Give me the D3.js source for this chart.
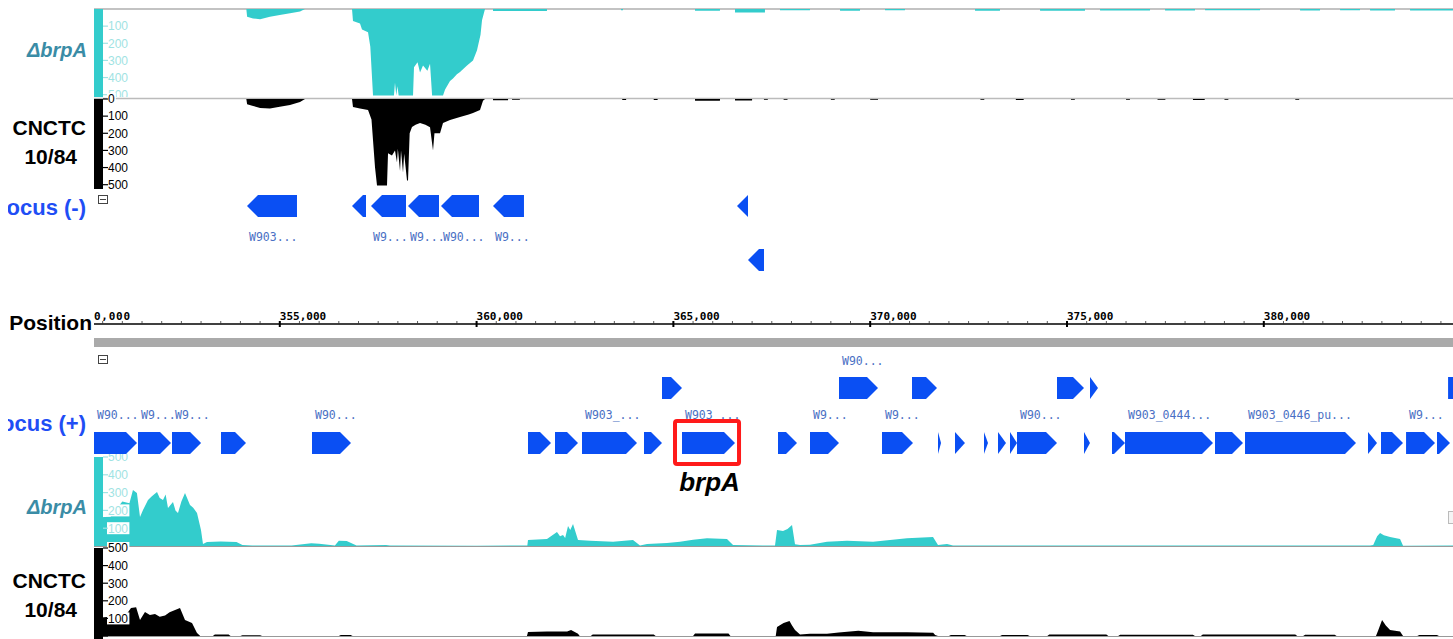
<!DOCTYPE html>
<html><head><meta charset="utf-8">
<script src="https://cdn.jsdelivr.net/npm/d3@7"></script>
<style>html,body{margin:0;padding:0;background:#fff;overflow:hidden}</style>
</head><body><svg id="c" width="1453" height="639"></svg>
<script>
// ---------------- data ----------------
const domainBp = [350280, 384807];
const majorTicks = [350000, 355000, 360000, 365000, 370000, 375000, 380000];
const covTicks = [0, 100, 200, 300, 400, 500];

// minus-strand coverage (upper tracks), [bp, reads]
const topTealCov = [[354150,0],[354170,45],[354320,55],[354500,60],[354750,45],[355000,35],[355260,25],[355514,15],[355641,0],
 [356835,0],[356860,70],[357038,85],[357089,120],[357242,135],[357300,220],[357369,600],[357900,600],[357927,430],[357960,600],[357990,450],[358020,600],
 [358385,600],[358410,340],[358500,310],[358563,370],[358639,330],[358750,360],[358817,320],[358870,600],[359147,600],[359200,470],[359325,420],[359401,405],
 [359500,380],[359579,368],[359757,330],[359909,300],[360011,240],[360100,150],[360138,65],[360214,0]];
const topTealBits = [[360417,361789,12],[363670,363720,8],[365549,366184,10],[366565,367327,20],[367708,368471,8],[369233,369742,10],[370376,370884,8],
 [372663,373298,10],[374315,375458,10],[375839,377110,9],[377491,378253,9],[378507,379905,8],[380921,381429,9],[381937,382445,8],[382699,383334,9],[383715,384807,9]];
const topBlackCov = [[354150,0],[354170,30],[354300,40],[354500,52],[354750,55],[355000,45],[355260,35],[355514,18],[355641,0],
 [356835,0],[356860,47],[357038,55],[357242,64],[357330,120],[357420,400],[357470,505],[357724,505],[357750,316],[357850,330],[357927,300],[357978,370],
 [358000,290],[358055,420],[358080,300],[358131,430],[358160,320],[358233,475],[358258,475],[358300,200],[358359,164],[358450,150],[358563,140],[358700,150],
 [358817,165],[358893,300],[358930,200],[359071,200],[359147,140],[359325,123],[359579,105],[359800,90],[359909,82],[360087,64],[360163,10],[360214,0]];
const topBlackBits = [[360417,360800,8],[360900,361100,5],[363700,363800,6],[364500,364600,6],[365549,366184,10],[366565,367000,9],[367300,367400,5],
 [367800,367900,5],[369000,369100,5],[370000,370200,5],[372800,372900,5],[373700,373900,6],[375100,375200,5],[376500,376600,5],[377300,377500,5],
 [378200,378500,6],[379000,379100,5],[380800,380900,5]];

// plus-strand coverage (lower tracks)
const botTealCov = [[350280,160],[350700,165],[351000,250],[351180,240],[351270,315],[351370,298],[351449,163],[351525,202],[351652,258],[351750,280],[351881,303],
 [351950,270],[352033,258],[352100,290],[352160,213],[352287,247],[352350,200],[352414,185],[352500,250],[352592,298],[352719,230],[352800,215],[352897,185],[352998,90],[353049,11],[353150,22],[353500,25],[353900,22],
 [354050,5],[354300,3],[355300,3],[355800,15],[356000,12],[356400,3],[356500,30],[356700,28],[356950,3],[357700,5],[357800,3],[360000,2],[360976,3],
 [361290,3],[361306,34],[361789,39],[362043,79],[362120,55],[362196,62],[362250,45],[362323,112],[362380,90],[362450,124],[362577,34],[362882,30],
 [363466,24],[363974,34],[364152,3],[364330,11],[364838,17],[365168,24],[365500,35],[365854,43],[366362,39],[366515,5],[367277,3],[367582,3],
 [367633,90],[367785,84],[367900,95],[368014,118],[368090,10],[368217,5],[368471,7],[368903,24],[369411,30],[370072,24],[370935,43],[371596,50],
 [371723,5],[371952,11],[372104,3],[372790,3],[382700,3],[382780,5],[382880,55],[382954,73],[383050,60],[383208,50],[383462,39],[383538,2],[384807,3]];
const botBlackCov = [[350280,100],[350600,108],[351093,120],[351220,159],[351350,163],[351449,91],[351575,136],[351700,120],[351830,125],[351950,110],[352085,117],[352200,135],[352340,148],
 [352465,159],[352592,91],[352770,74],[352897,17],[352980,0],[353300,0],[353350,8],[353700,8],[353750,0],[354000,0],[354050,4],[354500,4],[354550,0],
 [356500,0],[356550,6],[356800,6],[356850,0],[361280,0],[361306,23],[361789,26],[362300,26],[362400,34],[362577,13],[362620,0],[362900,0],[362950,9],
 [364500,9],[364550,0],[365500,0],[365550,14],[366400,14],[366450,0],[367600,0],[367633,51],[367800,74],[367950,85],[368014,60],[368090,34],[368217,8],
 [368471,13],[368903,13],[369200,20],[369700,30],[370072,21],[370935,21],[371600,18],[371650,5],[371723,0],[372000,0],[372050,5],[372400,5],[372450,0],
 [373300,0],[373350,6],[374000,6],[374050,0],[374500,0],[374550,8],[376000,8],[376050,0],[376300,0],[376350,7],[378200,7],[378250,0],[378400,0],
 [378450,9],[380800,9],[380850,0],[381000,0],[381050,7],[381800,7],[381850,0],[382850,0],[382903,30],[383005,91],[383100,60],[383208,34],[383462,26],
 [383538,0],[383900,0],[383950,5],[384400,5],[384450,0]];

// genes
const minusStart = [354167,356835,357318,358258,359096,360417,366616,366896];
const minusEnd   = [355437,357190,358207,359045,360061,361204,366896,367302];
const minusRow   = [0,0,0,0,0,0,0,1];
const minusLabel = ["W903...","","W9...","W9...","W90...","W9...","",""];

const plusStart = [364711,369208,371062,374746,375585,384682,
 350000,351398,352262,353507,355819,361306,361992,362678,364253,365219,367658,368471,370300,371723,372154,372891,373247,373552,373730,375432,376144,376474,378761,379523,382648,382978,383614,384401];
const plusEnd = [365219,370199,371697,375432,375788,385200,
 351373,352236,353000,354142,356810,361890,362577,364075,364711,366566,368141,369208,371088,371800,372408,372993,373450,373730,374746,375585,376474,378710,379472,382343,382877,383537,384350,384731];
const plusRow = [0,0,0,0,0,0, 1,1,1,1,1,1,1,1,1,1,1,1,1,1,1,1,1,1,1,1,1,1,1,1,1,1,1,1];
const plusLabel = ["","W90...","","","","",
 "W90...","W9...","W9...","","W90...","","","W903_...","","W903_...","","W9...","W9...","","","","","","W90...","","","W903_0444...","","W903_0446_pu...","","","W9...",""];
const highlightGene = 15; // index in plus arrays (brpA)

// ---------------- drawing ----------------
const svg = d3.select("#c");
const X0 = 94, X1 = 1453;
const x = d3.scaleLinear().domain(domainBp).range([X0, X1]);
const TEAL = "#33cccc", TEAL_LBL = "#3a8ca6", TICK_TEAL = "#9fe3e3", BLUE = "#0a4ff3", LBL_BLUE = "#1f4ef5";

const defs = svg.append("defs");
function clipR(id, x0, y0, x1, y1){ defs.append("clipPath").attr("id", id).append("rect").attr("x", x0).attr("y", y0).attr("width", x1-x0).attr("height", y1-y0); return `url(#${id})`; }
function clip(id, y0, y1){ return clipR(id, X0, y0, X1, y1); }

function withBits(main, bits){
  const pts = main.slice();
  bits.forEach(([s,e,v]) => { pts.push([s,0],[s+1,v],[e-1,v],[e,0]); });
  pts.sort((a,b)=>a[0]-b[0]);
  return pts;
}

const tracks = [
  {data: withBits(topTealCov, topTealBits), color: TEAL, y: d3.scaleLinear().domain([0,500]).range([9,94.7]), clipY:[9,97], bar:[9,97], tick: TICK_TEAL, ticks:[100,200,300,400,500], lblClip:[9,97]},
  {data: withBits(topBlackCov, topBlackBits), color: "#000", y: d3.scaleLinear().domain([0,500]).range([99,184.7]), clipY:[99,186], bar:[99,189], tick: "#000", ticks:covTicks, lblClip:[92,190]},
  {data: botTealCov, color: TEAL, y: d3.scaleLinear().domain([0,500]).range([546,457]), clipY:[455,546], bar:[457,546], tick: TICK_TEAL, ticks:[100,200,300,400,500], lblClip:[450,547]},
  {data: botBlackCov, color: "#000", y: d3.scaleLinear().domain([0,500]).range([636,548]), clipY:[546,639], bar:[548,639], tick: "#000", ticks:[100,200,300,400,500], lblClip:[540,639]}
];

// baselines / separators
svg.append("line").attr("x1",X0).attr("x2",X1).attr("y1",9).attr("y2",9).attr("stroke","#888").attr("stroke-width",1.2);
svg.append("line").attr("x1",X0).attr("x2",X1).attr("y1",98.5).attr("y2",98.5).attr("stroke","#bbb").attr("stroke-width",1.5);
svg.append("line").attr("x1",X0).attr("x2",X1).attr("y1",546.5).attr("y2",546.5).attr("stroke","#999").attr("stroke-width",1);
svg.append("line").attr("x1",X0).attr("x2",X1).attr("y1",636.5).attr("y2",636.5).attr("stroke","#999").attr("stroke-width",1);

tracks.forEach((t,i) => {
  const cp = clip("cov"+i, t.clipY[0], t.clipY[1]);
  const area = d3.area().x(d=>x(d[0])).y0(t.y(0)).y1(d=>t.y(Math.min(d[1],505)));
  svg.append("path").datum(t.data).attr("clip-path", cp).attr("d", area).attr("fill", t.color);
  svg.append("rect").attr("x",94).attr("y",t.bar[0]).attr("width",9).attr("height",t.bar[1]-t.bar[0]).attr("fill",t.color);
  const g = svg.append("g").attr("clip-path", clipR("lbl"+i, 100, t.lblClip[0], 140, t.lblClip[1]));
  t.ticks.forEach(v => {
    const yy = t.y(v);
    const txt = String(v);
    g.append("rect").attr("x",107).attr("y",yy-6).attr("width",txt.length*6.8+2).attr("height",12).attr("fill","#fff");
    g.append("line").attr("x1",103).attr("x2",108).attr("y1",yy).attr("y2",yy).attr("stroke",t.tick).attr("stroke-width",1.2);
    g.append("text").attr("x",108).attr("y",yy).attr("dy","0.36em").attr("font-family","Liberation Sans, Arial, sans-serif")
      .attr("font-size",12).attr("fill",t.tick).text(txt);
  });
});
svg.append("line").attr("x1",103).attr("x2",108).attr("y1",636).attr("y2",636).attr("stroke","#000").attr("stroke-width",1.2);

// left labels (the name panel clips at x = 8)
const nameG = svg.append("g").attr("clip-path", clipR("names", 8, 0, 94, 639));
const lab = (txt, xx, yy, color, italic, size) => nameG.append("text").attr("x",xx).attr("y",yy).attr("text-anchor","end")
  .attr("font-family","Liberation Sans, Arial, sans-serif").attr("font-weight","bold").attr("font-style", italic?"italic":"normal")
  .attr("font-size",size||21).attr("fill",color).text(txt);
lab("\u0394brpA", 87, 57, TEAL_LBL, true, 20);
lab("CNCTC", 86, 135, "#000");
lab("10/84", 77, 164, "#000");
lab("Locus (-)", 86, 215, LBL_BLUE, false, 22);
lab("Position", 92, 330, "#000");
lab("Locus (+)", 86, 431, LBL_BLUE, false, 22);
lab("\u0394brpA", 87, 514, TEAL_LBL, true, 20);
lab("CNCTC", 86, 588, "#000");
lab("10/84", 77, 617, "#000");

// position axis
const axY = 324;
const axG = svg.append("g").attr("clip-path", clip("ax", 300, 335));
axG.append("line").attr("x1",X0).attr("x2",X1).attr("y1",axY).attr("y2",axY).attr("stroke","#000").attr("stroke-width",1.5);
const minor = d3.range(350000, 385001, 500);
axG.selectAll("line.mn").data(minor).join("line").attr("class","mn")
  .attr("x1",d=>x(d)).attr("x2",d=>x(d)).attr("y1",axY-3).attr("y2",axY).attr("stroke","#333").attr("stroke-width",0.8);
axG.selectAll("line.mj").data(majorTicks).join("line").attr("class","mj")
  .attr("x1",d=>x(d)).attr("x2",d=>x(d)).attr("y1",axY-3).attr("y2",axY+3).attr("stroke","#000").attr("stroke-width",2);
axG.selectAll("text").data(majorTicks.filter(d=>x(d)>=X0)).join("text").attr("x",d=>x(d)).attr("y",axY-4)
  .attr("font-family","DejaVu Sans Mono, monospace").attr("font-weight","bold").attr("font-size",11).attr("fill","#000")
  .text(d=>d3.format(",")(d));
axG.append("text").attr("x",X0).attr("y",axY-4).attr("font-family","DejaVu Sans Mono, monospace").attr("font-weight","bold")
  .attr("font-size",11).attr("fill","#000").attr("textLength",36).text("0,000");
svg.append("rect").attr("x",X0).attr("y",338).attr("width",X1-X0).attr("height",9).attr("fill","#aaaaaa");

// collapse icons
[[98,195],[98,355]].forEach(([ix,iy]) => {
  svg.append("rect").attr("x",ix+0.5).attr("y",iy+0.5).attr("width",9).attr("height",8).attr("fill","#fff").attr("stroke","#444");
  svg.append("line").attr("x1",ix+2).attr("x2",ix+8).attr("y1",iy+4.5).attr("y2",iy+4.5).attr("stroke","#444");
});

// genes
function genePath(s, e, strand, yTop, h){
  const x0 = x(s), x1 = x(e), hw = Math.min(11, x1-x0), ym = yTop+h/2, yb = yTop+h;
  if (strand > 0) return `M${x0},${yTop}L${x1-hw},${yTop}L${x1},${ym}L${x1-hw},${yb}L${x0},${yb}Z`;
  return `M${x1},${yTop}L${x0+hw},${yTop}L${x0},${ym}L${x0+hw},${yb}L${x1},${yb}Z`;
}
const geneG = svg.append("g").attr("clip-path", clip("genes", 180, 470));
const minusRowY = [195, 249], plusRowY = [377, 432];
const minusLblY = [237, 291], plusLblY = [361, 415];
const lblFont = (sel) => sel.attr("font-family","DejaVu Sans Mono, monospace").attr("font-size",11.5).attr("fill","#4a6fc4").attr("dy","0.35em");

minusStart.forEach((s,i) => {
  geneG.append("path").attr("d", genePath(s, minusEnd[i], -1, minusRowY[minusRow[i]], 22)).attr("fill", BLUE);
  if (minusLabel[i]) geneG.append("text").attr("x", Math.max(x(s),X0)+2).attr("y", minusLblY[minusRow[i]]).call(lblFont).text(minusLabel[i]);
});
plusStart.forEach((s,i) => {
  geneG.append("path").attr("d", genePath(s, plusEnd[i], 1, plusRowY[plusRow[i]], 22)).attr("fill", BLUE);
  if (plusLabel[i]) geneG.append("text").attr("x", Math.max(x(s),X0)+3).attr("y", plusLblY[plusRow[i]]).call(lblFont).text(plusLabel[i]);
});

// highlight box for brpA
const hs = x(plusStart[highlightGene]), he = x(plusEnd[highlightGene]);
svg.append("rect").attr("x",hs-7).attr("y",421).attr("width",he-hs+11).attr("height",43).attr("rx",2)
  .attr("fill","none").attr("stroke","#ff1a1a").attr("stroke-width",4);
svg.append("text").attr("x",(hs+he)/2+1).attr("y",491).attr("text-anchor","middle")
  .attr("font-family","Liberation Sans, Arial, sans-serif").attr("font-weight","bold").attr("font-style","italic")
  .attr("font-size",26).attr("fill","#000").text("brpA");

// small icon at right edge
svg.append("rect").attr("x",1448.5).attr("y",511.5).attr("width",8).attr("height",12).attr("fill","#f4f4f4").attr("stroke","#bbb");
</script></body></html>
